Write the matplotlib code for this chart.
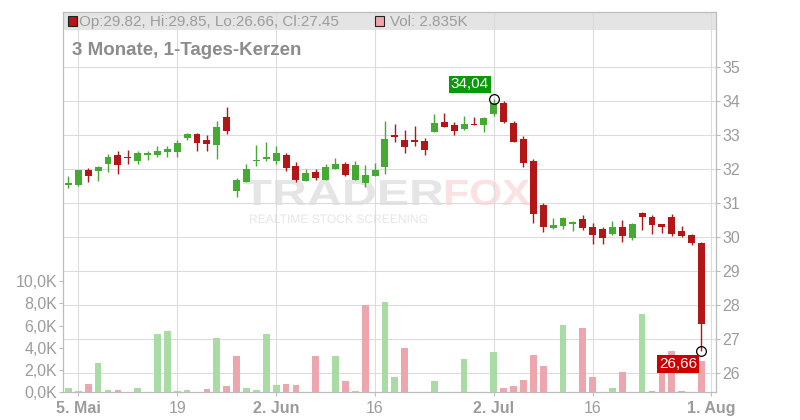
import numpy as np
import matplotlib.pyplot as plt
from matplotlib.patches import Rectangle, PathPatch
from matplotlib.textpath import TextPath
from matplotlib.font_manager import FontProperties
from matplotlib.transforms import Affine2D

plt.rcParams['font.family'] = ['Liberation Sans', 'DejaVu Sans']

# Tageskerzen vom 2.5.2025 bis 31.7.2025 (Handelstage)
start_date = "2025-05-02"
opens = [31.52, 31.51, 31.95, 31.93, 32.13, 32.39, 32.33, 32.24, 32.40, 32.39,
         32.48, 32.48, 32.90, 33.01, 32.83, 32.71, 33.53, 31.34, 31.61, 32.22,
         32.30, 32.24, 32.39, 32.07, 31.63, 31.92, 31.66, 31.98, 32.13, 31.66,
         31.57, 31.80, 32.04, 32.98, 32.84, 32.83, 32.81, 33.09, 33.37, 33.28,
         33.17, 33.32, 33.28, 33.61, 33.94, 33.35, 32.86, 32.23, 30.95, 30.27,
         30.32, 30.39, 30.52, 30.28, 30.23, 30.08, 30.28, 29.97, 30.69, 30.60,
         30.38, 30.60, 30.17, 30.05, 29.82]
highs = [31.78, 31.97, 32.01, 32.07, 32.42, 32.51, 32.54, 32.51, 32.52, 32.68,
         32.68, 32.83, 33.06, 33.04, 32.98, 33.41, 33.80, 31.74, 32.13, 32.71,
         32.78, 32.68, 32.45, 32.19, 32.00, 31.98, 32.13, 32.33, 32.19, 32.22,
         32.10, 32.16, 33.41, 33.30, 33.13, 33.25, 32.91, 33.61, 33.65, 33.38,
         33.55, 33.53, 33.53, 34.04, 33.99, 33.41, 32.96, 32.29, 30.99, 30.56,
         30.60, 30.47, 30.63, 30.40, 30.28, 30.46, 30.49, 30.41, 30.72, 30.63,
         30.38, 30.66, 30.31, 30.09, 29.85]
lows = [31.43, 31.49, 31.61, 31.64, 31.92, 31.86, 32.13, 32.13, 32.27, 32.34,
        32.36, 32.34, 32.83, 32.51, 32.51, 32.30, 33.01, 31.17, 31.60, 32.07,
        32.22, 32.13, 31.93, 31.61, 31.63, 31.66, 31.66, 31.98, 31.78, 31.66,
        31.48, 31.80, 31.86, 32.78, 32.46, 32.66, 32.40, 33.09, 33.22, 32.99,
        33.14, 33.29, 33.08, 33.55, 33.33, 32.78, 32.04, 30.41, 30.15, 30.24,
        30.23, 30.18, 30.21, 29.80, 29.80, 30.05, 29.86, 29.92, 30.21, 30.09,
        30.12, 30.03, 30.00, 29.77, 26.66]
closes = [31.57, 31.95, 31.78, 32.04, 32.36, 32.10, 32.31, 32.45, 32.46, 32.51,
          32.57, 32.77, 33.03, 32.75, 32.74, 33.24, 33.12, 31.66, 31.98, 32.25,
          32.33, 32.45, 32.01, 31.66, 31.89, 31.72, 32.04, 32.13, 31.83, 32.10,
          31.83, 31.95, 32.87, 32.93, 32.64, 32.78, 32.55, 33.35, 33.23, 33.12,
          33.31, 33.29, 33.49, 33.94, 33.37, 32.78, 32.18, 30.68, 30.29, 30.34,
          30.55, 30.43, 30.26, 30.06, 29.97, 30.28, 30.03, 30.38, 30.58, 30.35,
          30.29, 30.09, 30.03, 29.83, 27.45]
# Volumen in Tausend Stueck
volumes = [0.39, 0.12, 0.75, 2.63, 0.21, 0.21, 0.0, 0.39, 0.0, 5.22,
           5.49, 0.12, 0.21, 0.0, 0.30, 4.87, 0.57, 3.25, 0.39, 0.21,
           5.22, 0.66, 0.75, 0.66, 0.0, 3.25, 0.0, 3.25, 1.01, 0.12,
           7.82, 0.0, 8.09, 1.37, 3.97, 0.0, 0.0, 1.01, 0.0, 0.0,
           2.99, 0.0, 0.0, 3.61, 0.39, 0.57, 1.10, 3.34, 2.36, 0.0,
           6.03, 0.0, 5.76, 1.37, 0.0, 0.39, 1.82, 0.0, 7.01, 0.12,
           2.00, 3.70, 0.12, 0.0, 2.835]

tick_dates = ["2025-05-05", "2025-05-19", "2025-06-02", "2025-06-16",
              "2025-07-02", "2025-07-16", "2025-08-01"]
tick_labels = ["5. Mai", "19", "2. Jun", "16", "2. Jul", "16", "1. Aug"]
tick_bold = [True, False, True, False, True, False, True]
price_ticks = [26, 27, 28, 29, 30, 31, 32, 33, 34, 35]
vol_ticks = [0, 2, 4, 6, 8, 10]

# Farben
up_col = "#45a933"
down_col = "#b31616"
vol_up = "#a9dca4"
vol_down = "#eea6ae"
grid_col = "#dcdcdc"
text_col = "#9c9c9c"
spine_col = "#bdbdbd"

o = np.array(opens)
h = np.array(highs)
l = np.array(lows)
c = np.array(closes)
x = np.arange(len(o))
tick_pos = np.busday_count(start_date, tick_dates)

W, H = 800, 420
fig = plt.figure(figsize=(8, 4.2), dpi=100)
rect = [63.3 / W, 27.7 / H, 653 / W, 380.3 / H]
ax = fig.add_axes(rect)
ax_v = fig.add_axes(rect, sharex=ax)
ax_v.patch.set_visible(False)

# Kerzen
cols = [up_col if cc >= oo else down_col for oo, cc in zip(o, c)]
body_h = np.maximum(np.abs(c - o), 0.035)
body_lo = (o + c) / 2 - body_h / 2
ax.vlines(x, l, h, colors=cols, lw=1.0, zorder=2)
ax.bar(x, body_h, bottom=body_lo, width=0.7, color=cols, lw=0, zorder=3)

# Volumen (Farbe nach Schlusskurs gegenueber Vortag)
vcols = [vol_up] + [vol_up if c[i] >= c[i - 1] else vol_down for i in range(1, len(c))]
ax_v.bar(x, volumes, width=0.68, color=vcols, lw=0, zorder=2)

# Achsen
ax.set_xlim(-0.52, 65.5)
ax.set_ylim(25.4425, 36.60)
ax_v.set_ylim(0, 34.17)

ax.yaxis.tick_right()
ax.set_yticks(price_ticks)
ax.set_xticks(tick_pos)
ax.set_xticklabels(tick_labels)
for lbl, b in zip(ax.get_xticklabels(), tick_bold):
    lbl.set_fontweight("bold" if b else "normal")
ax.grid(True, color=grid_col, lw=0.8)
ax.set_axisbelow(True)
ax.tick_params(axis="y", direction="out", length=3, width=0.8, color=spine_col,
               labelcolor=text_col, labelsize=11.5, pad=1.5)
ax.tick_params(axis="x", direction="out", length=3, width=0.8, color=spine_col,
               labelcolor=text_col, labelsize=11.5, pad=3)
for s in ax.spines.values():
    s.set_color(spine_col)
    s.set_linewidth(0.9)

ax_v.set_yticks(vol_ticks)
ax_v.set_yticklabels([f"{v:.1f}K".replace(".", ",") for v in vol_ticks])
ax_v.tick_params(axis="y", direction="out", length=3, width=0.8, color=spine_col,
                 labelcolor=text_col, labelsize=11.5, pad=1.5)
ax_v.tick_params(axis="x", bottom=False, labelbottom=False)
for s in ax_v.spines.values():
    s.set_visible(False)

# grauer Legendenbalken
ax.add_patch(Rectangle((0, 1 - 18 / 380.3), 1, 18 / 380.3, transform=ax.transAxes,
                       fc="#e4e4e4", ec="none", zorder=0.2))


# Wasserzeichen
def stamp(txt, x0, x1, ybase, cap, color, weight="bold"):
    tp = TextPath((0, 0), txt, size=1, prop=FontProperties(family="Liberation Sans", weight=weight))
    ext = tp.get_extents()
    capref = TextPath((0, 0), "T", size=1, prop=FontProperties(family="Liberation Sans", weight=weight)).get_extents().y1
    sx = (x1 - x0) / ext.width
    sy = cap / capref
    tr = Affine2D().translate(-ext.x0, 0).scale(sx / W, sy / H).translate(x0 / W, (H - ybase) / H) + fig.transFigure
    ax.add_patch(PathPatch(tp, transform=tr, fc=color, ec="none", zorder=0.3))


stamp("TRADER", 243, 443, 205, 25, "#e5e5e5")
stamp("FOX", 446, 530, 205, 25, "#fbe1e1")
stamp("REALTIME STOCK SCREENING", 250, 427, 223, 8.5, "#e6e6e6", weight="normal")

# Hoch / Tief markieren
i_hi = int(np.argmax(h))
i_lo = int(np.argmin(l))
ax.plot([i_hi, i_lo], [h[i_hi], l[i_lo]], ls="none", marker="o", ms=7, mfc="none",
        mec="black", mew=0.9, zorder=5)
ax_v.annotate(f"{h[i_hi]:.2f}".replace(".", ","), xy=(i_hi, h[i_hi]), xycoords=ax.transData,
              xytext=(-3.6, 5.6), textcoords="offset points", ha="right", va="bottom",
              color="white", fontsize=11,
              bbox=dict(boxstyle="square,pad=0.12", fc="#0a990a", ec="none"), zorder=6)
ax_v.annotate(f"{l[i_lo]:.2f}".replace(".", ","), xy=(i_lo, l[i_lo]), xycoords=ax.transData,
              xytext=(-3.0, -4.6), textcoords="offset points", ha="right", va="top",
              color="white", fontsize=11,
              bbox=dict(boxstyle="square,pad=0.12", fc="#cc0000", ec="none"), zorder=6)

# Kopfzeile
fig.add_artist(Rectangle((68.3 / W, 1 - 25.7 / H), 9 / W, 10 / H, transform=fig.transFigure,
                         fc=down_col, ec="#222222", lw=0.8))
fig.text(79 / W, 1 - 26 / H, f"Op:{o[-1]:.2f}, Hi:{h[-1]:.2f}, Lo:{l[-1]:.2f}, Cl:{c[-1]:.2f}",
         fontsize=11, color=text_col, va="baseline")
fig.add_artist(Rectangle((375 / W, 1 - 25.7 / H), 9 / W, 10 / H, transform=fig.transFigure,
                         fc=vol_down, ec="#222222", lw=0.8))
fig.text(390 / W, 1 - 26 / H, f"Vol: {volumes[-1]:.3f}K", fontsize=11, color=text_col, va="baseline")
fig.text(72 / W, 1 - 55 / H, "3 Monate, 1-Tages-Kerzen", fontsize=13.5, fontweight="bold",
         color="#8c8c8c", va="baseline")

fig.savefig("out.png", dpi=100, facecolor="white")
